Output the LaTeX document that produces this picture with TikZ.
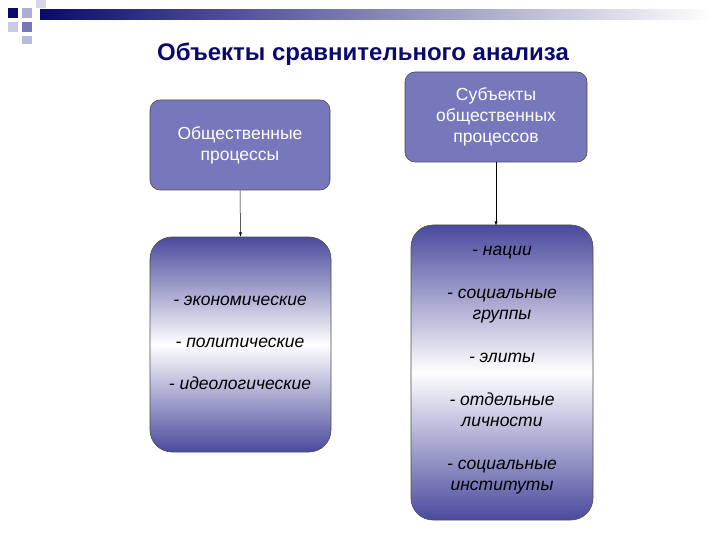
\documentclass[tikz,border=0pt]{standalone}
\usepackage{fontspec}
\setmainfont{Liberation Sans}
\begin{document}
\begin{tikzpicture}[x=1pt,y=-1pt,
  topbox/.style={draw=black!70,fill=topfill,rounded corners=10pt,line width=0.6pt},
  lowbox/.style={draw=black!70,rounded corners=22pt,top color=grad,bottom color=grad,middle color=white,line width=0.6pt},
  txt/.style={align=center,font=\fontsize{17.5}{21}\selectfont},
  arr/.style={-latex,line width=0.5pt}]
\definecolor{topfill}{HTML}{7777BB}
\definecolor{grad}{HTML}{4A4A9E}
\definecolor{navy}{HTML}{0A0A6E}
\useasboundingbox (0,0) rectangle (720,540);
% decoration
\fill[navy] (8,8) rectangle (18,18);
\fill[topfill!60] (22,8) rectangle (32,18);
\fill[topfill!40] (8,22) rectangle (18,32);
\fill[topfill] (22,22) rectangle (32,32);
\fill[topfill!30] (36,0) rectangle (46,8);
\fill[topfill!50] (22,36) rectangle (32,44);
\shade[left color=navy,right color=white] (40,10) rectangle (712,20);
\node[font=\bfseries\fontsize{24}{28}\selectfont,text=navy] (title) at (363,54) {Объекты сравнительного анализа};
\node[topbox,minimum width=180pt,minimum height=90pt,txt,text=white] (a) at (240,145) {Общественные\\процессы};
\node[topbox,minimum width=182pt,minimum height=90pt,txt,text=white] (b) at (496,117) {Субъекты\\общественных\\процессов};
\node[lowbox,minimum width=181pt,minimum height=215pt] (c) at (240.5,344.5) {};
\node[lowbox,minimum width=182pt,minimum height=295pt] (d) at (502,372.5) {};
\node[txt,font=\itshape\fontsize{17.5}{21}\selectfont] at (240,343) {- экономические\\[21pt]- политические\\[21pt]- идеологические};
\node[txt,font=\itshape\fontsize{17.5}{21}\selectfont,anchor=north] at (502,243) {- нации\\[22pt]- социальные\\группы\\[22pt]- элиты\\[22pt]- отдельные\\личности\\[22pt]- социальные\\институты};
\draw[arr] (a.south) -- (c.north);
\draw[arr] (b.south) -- ([yshift=-1pt]b.south |- d.north);
\end{tikzpicture}
\end{document}
